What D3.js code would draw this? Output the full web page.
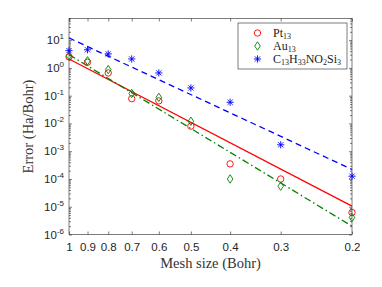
<!DOCTYPE html>
<html>
<head>
<meta charset="utf-8">
<script src="https://d3js.org/d3.v7.min.js"></script>
<style>
  html, body { margin:0; padding:0; background:#fff; }
  svg { display:block; }
</style>
</head>
<body>
<div id="chart"></div>
<script>
// mesh sizes (Bohr) and errors (Ha/Bohr)
var meshSizes = [1, 0.9, 0.8, 0.7, 0.6, 0.5, 0.4, 0.3, 0.2];
var errPt = [2.5, 1.6, 0.66, 0.078, 0.065, 0.008, 3.5e-4, 1.0e-4, 6.2e-6];
var errAu = [2.7, 1.8, 0.87, 0.12, 0.087, 0.012, 1.0e-4, 5.5e-5, 4.1e-6];
var errC  = [4.2, 4.5, 3.2, 2.1, 0.66, 0.19, 0.058, 0.0017, 1.26e-4];

// fitted lines, end values
var fitX  = [1, 0.2];
var fitPt = [2.1, 1.05e-5];
var fitAu = [3.0, 2.0e-6];
var fitC  = [12, 2.2e-4];

var xTickLabels = ['1', '0.9', '0.8', '0.7', '0.6', '0.5', '0.4', '0.3', '0.2'];
var yExponents = [-6, -5, -4, -3, -2, -1, 0, 1];

var W = 382, H = 287;
var pLeft = 69, pRight = 352, pTop = 18.5, pBottom = 234.5;
var axisColor = '#262626';

var svg = d3.select('#chart').append('svg')
    .attr('width', W).attr('height', H);

var x = d3.scaleLog().domain([1, 0.2]).range([pLeft, pRight]);
var y = d3.scaleLog().domain([1e-6, Math.pow(10, 1.78)]).range([pBottom, pTop]);

// minor ticks on y
var minor = [];
yExponents.concat([2]).forEach(function(e){
    for (var m = 2; m <= 9; m++) {
        var v = m * Math.pow(10, e - 1);
        if (v > y.domain()[0] && v < y.domain()[1]) minor.push(v);
    }
});

function styleAxis(g){
    g.select('.domain').remove();
    g.selectAll('line').attr('stroke', axisColor).attr('stroke-width', 0.6);
    g.selectAll('text').attr('fill', axisColor)
        .style('font-family', 'Liberation Sans, Arial, sans-serif')
        .style('font-size', '11.5px');
}

// bottom axis
svg.append('g').attr('transform', 'translate(0,' + pBottom + ')')
    .call(d3.axisBottom(x).tickValues(meshSizes)
        .tickFormat(function(d, i){ return xTickLabels[i]; })
        .tickSizeInner(-3).tickSizeOuter(0).tickPadding(8))
    .call(styleAxis);
// top axis
svg.append('g').attr('transform', 'translate(0,' + pTop + ')')
    .call(d3.axisTop(x).tickValues(meshSizes).tickFormat('')
        .tickSizeInner(-3).tickSizeOuter(0))
    .call(styleAxis);

// left axis
var yMajor = yExponents.map(function(e){ return Math.pow(10, e); });
svg.append('g').attr('transform', 'translate(' + pLeft + ',0)')
    .call(d3.axisLeft(y).tickValues(yMajor).tickFormat('')
        .tickSizeInner(-3).tickSizeOuter(0))
    .call(styleAxis);
svg.append('g').attr('transform', 'translate(' + pLeft + ',0)')
    .call(d3.axisLeft(y).tickValues(minor).tickFormat('')
        .tickSizeInner(-2).tickSizeOuter(0))
    .call(styleAxis);
// right axis
svg.append('g').attr('transform', 'translate(' + pRight + ',0)')
    .call(d3.axisRight(y).tickValues(yMajor).tickFormat('')
        .tickSizeInner(-3).tickSizeOuter(0))
    .call(styleAxis);
svg.append('g').attr('transform', 'translate(' + pRight + ',0)')
    .call(d3.axisRight(y).tickValues(minor).tickFormat('')
        .tickSizeInner(-2).tickSizeOuter(0))
    .call(styleAxis);

// y tick labels 10^e
var ylab = svg.append('g').selectAll('text').data(yExponents).enter()
    .append('text')
    .attr('x', pLeft - 5)
    .attr('y', function(e){ return y(Math.pow(10, e)) + 4; })
    .attr('text-anchor', 'end')
    .attr('fill', axisColor)
    .style('font-family', 'Liberation Sans, Arial, sans-serif')
    .style('font-size', '11.5px');
ylab.append('tspan').text('10');
ylab.append('tspan').attr('dy', -5).style('font-size', '8px')
    .text(function(e){ return e < 0 ? '-' + (-e) : '' + e; });

// box
svg.append('rect')
    .attr('x', pLeft).attr('y', pTop)
    .attr('width', pRight - pLeft).attr('height', pBottom - pTop)
    .attr('fill', 'none').attr('stroke', axisColor).attr('stroke-width', 0.6);

// axis titles
svg.append('text')
    .attr('x', (pLeft + pRight) / 2).attr('y', 268)
    .attr('text-anchor', 'middle').attr('fill', '#333')
    .style('font-family', 'Liberation Serif, Times New Roman, serif')
    .style('font-size', '14.5px')
    .text('Mesh size (Bohr)');
svg.append('text')
    .attr('transform', 'translate(33,' + ((pTop + pBottom) / 2) + ') rotate(-90)')
    .attr('text-anchor', 'middle').attr('fill', '#333')
    .style('font-family', 'Liberation Serif, Times New Roman, serif')
    .style('font-size', '14.5px')
    .text('Error (Ha/Bohr)');

var plot = svg.append('g');

// fit lines
var line = d3.line()
    .x(function(d){ return x(d[0]); })
    .y(function(d){ return y(d[1]); });

var fits = [
    {vals: fitPt, color: '#ff0000', dash: null},
    {vals: fitAu, color: '#008000', dash: '7,3,1.5,3'},
    {vals: fitC,  color: '#0000ff', dash: '6,4'}
];
fits.forEach(function(f){
    plot.append('path')
        .datum(d3.zip(fitX, f.vals))
        .attr('d', line)
        .attr('fill', 'none')
        .attr('stroke', f.color)
        .attr('stroke-width', 1.3)
        .attr('stroke-dasharray', f.dash);
});

// markers
function circleMark(g, color){
    g.append('circle').attr('r', 3.2).attr('fill', 'none')
        .attr('stroke', color).attr('stroke-width', 0.9);
}
function diamondMark(g, color){
    g.append('path').attr('d', 'M0,-4.2L2.8,0L0,4.2L-2.8,0Z')
        .attr('fill', 'none').attr('stroke', color).attr('stroke-width', 0.9);
}
function starMark(g, color){
    var s = 3.6, d = s * 0.72;
    g.append('path')
        .attr('d', 'M' + (-s) + ',0L' + s + ',0M0,' + (-s) + 'L0,' + s +
              'M' + (-d) + ',' + (-d) + 'L' + d + ',' + d +
              'M' + (-d) + ',' + d + 'L' + d + ',' + (-d))
        .attr('stroke', color).attr('stroke-width', 0.9);
}

var series = [
    {vals: errPt, color: '#ff0000', mark: circleMark},
    {vals: errAu, color: '#008000', mark: diamondMark},
    {vals: errC,  color: '#0000ff', mark: starMark}
];
series.forEach(function(s){
    plot.selectAll(null).data(d3.zip(meshSizes, s.vals)).enter()
        .append('g')
        .attr('transform', function(d){ return 'translate(' + x(d[0]) + ',' + y(d[1]) + ')'; })
        .each(function(){ s.mark(d3.select(this), s.color); });
});

// legend
var legendLabels = [
    [['Pt', 0], ['13', 1]],
    [['Au', 0], ['13', 1]],
    [['C', 0], ['13', 1], ['H', 0], ['33', 1], ['NO', 0], ['2', 1], ['Si', 0], ['3', 1]]
];
var legendRows = [33, 46, 59];
var lg = svg.append('g');
lg.append('rect')
    .attr('x', 238).attr('y', 23).attr('width', 109).attr('height', 46)
    .attr('fill', '#fff').attr('stroke', axisColor).attr('stroke-width', 0.6);
series.forEach(function(s, i){
    var g = lg.append('g').attr('transform', 'translate(257.5,' + legendRows[i] + ')');
    s.mark(g, s.color);
    var t = lg.append('text')
        .attr('x', 273).attr('y', legendRows[i] + 3.5)
        .attr('fill', '#222')
        .style('font-family', 'Liberation Serif, Times New Roman, serif')
        .style('font-size', '12px');
    var prevSub = 0;
    legendLabels[i].forEach(function(p){
        var dy = (p[1] ? 2.5 : 0) - (prevSub ? 2.5 : 0);
        t.append('tspan').attr('dy', dy)
            .style('font-size', p[1] ? '8px' : '12px')
            .text(p[0]);
        prevSub = p[1];
    });
});
</script>
</body>
</html>
